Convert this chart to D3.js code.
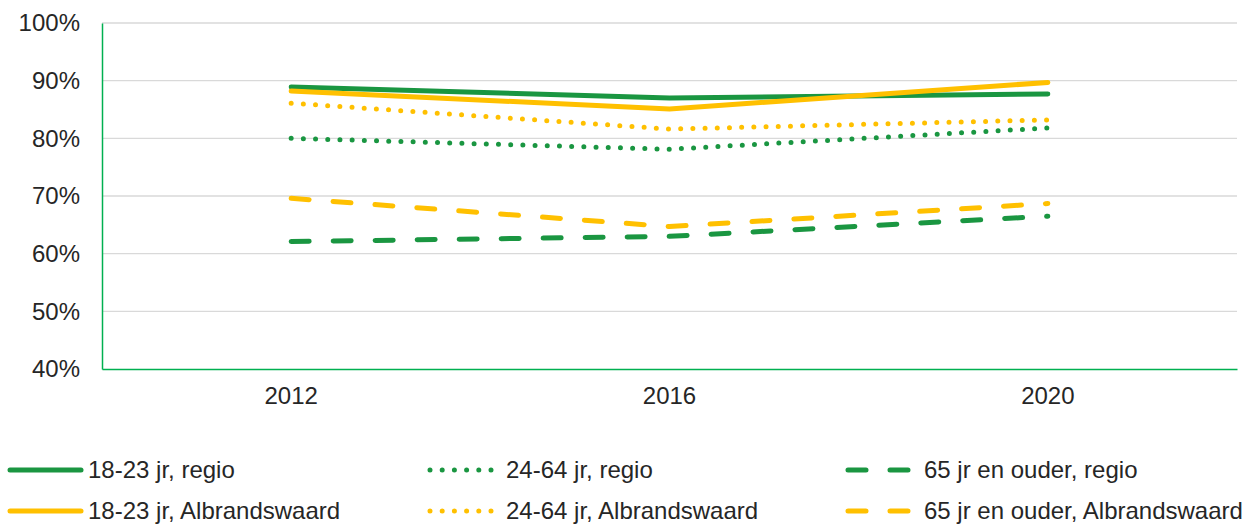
<!DOCTYPE html>
<html>
<head>
<meta charset="utf-8">
<script src="https://cdn.jsdelivr.net/npm/d3@7"></script>
<style>
  body { margin: 0; background: #fff; }
  svg { font-family: "Liberation Sans", Arial, sans-serif; }
</style>
</head>
<body>
<div id="chart"></div>
<script>
// Data
const years = ["2012", "2016", "2020"];
const yTicks = [0.4, 0.5, 0.6, 0.7, 0.8, 0.9, 1.0];

const regio1823 = [0.889, 0.870, 0.877];
const alb1823 = [0.882, 0.851, 0.897];
const regio2464 = [0.800, 0.781, 0.818];
const alb2464 = [0.861, 0.816, 0.832];
const regio65 = [0.621, 0.630, 0.665];
const alb65 = [0.696, 0.647, 0.687];

const seriesNames = [
  "18-23 jr, regio",
  "18-23 jr, Albrandswaard",
  "24-64 jr, regio",
  "24-64 jr, Albrandswaard",
  "65 jr en ouder, regio",
  "65 jr en ouder, Albrandswaard"
];

const green = "#1a9641";
const yellow = "#ffc000";
const dotted = "0,12.2";
const dashed = "18,24";

const series = [
  { name: seriesNames[0], values: regio1823, color: green, dash: null },
  { name: seriesNames[1], values: alb1823, color: yellow, dash: null },
  { name: seriesNames[2], values: regio2464, color: green, dash: dotted },
  { name: seriesNames[3], values: alb2464, color: yellow, dash: dotted },
  { name: seriesNames[4], values: regio65, color: green, dash: dashed },
  { name: seriesNames[5], values: alb65, color: yellow, dash: dashed }
];

const width = 1247;
const height = 524;
const margin = { top: 23, right: 10, bottom: 155, left: 102 };
const fontSize = 24;

const svg = d3.select("#chart")
  .append("svg")
  .attr("width", width)
  .attr("height", height);

const x = d3.scaleBand()
  .domain(years)
  .range([margin.left, width - margin.right]);

const y = d3.scaleLinear()
  .domain([0.4, 1.0])
  .range([height - margin.bottom, margin.top]);

// gridlines
svg.append("g")
  .selectAll("line")
  .data(yTicks.slice(1))
  .enter()
  .append("line")
  .attr("x1", margin.left)
  .attr("x2", width - margin.right)
  .attr("y1", (d) => y(d))
  .attr("y2", (d) => y(d))
  .attr("stroke", "#d9d9d9")
  .attr("stroke-width", 1.3);

// y axis
const yAxis = svg.append("g")
  .attr("transform", `translate(${margin.left},0)`)
  .call(d3.axisLeft(y).tickValues(yTicks).tickFormat(d3.format(".0%")).tickSize(0).tickPadding(22));
yAxis.select(".domain").attr("stroke", "#00b050").attr("stroke-width", 1.5);
yAxis.selectAll("text").attr("font-size", fontSize).attr("fill", "#262626");

// x axis
const xAxis = svg.append("g")
  .attr("transform", `translate(0,${height - margin.bottom})`)
  .call(d3.axisBottom(x).tickSize(0).tickPadding(18));
xAxis.select(".domain").attr("stroke", "#00b050").attr("stroke-width", 1.5);
xAxis.selectAll("text").attr("font-size", fontSize).attr("fill", "#262626");

// lines
const line = d3.line()
  .x((d, i) => x(years[i]) + x.bandwidth() / 2)
  .y((d) => y(d));

svg.append("g")
  .selectAll("path")
  .data(series)
  .enter()
  .append("path")
  .attr("d", (d) => line(d.values))
  .attr("fill", "none")
  .attr("stroke", (d) => d.color)
  .attr("stroke-width", 5)
  .attr("stroke-linecap", "round")
  .attr("stroke-linejoin", "round")
  .attr("stroke-dasharray", (d) => d.dash);

// legend: 3 columns, 2 rows
const legendCols = [
  { lx0: 10, lx1: 81, tx: 88 },
  { lx0: 430, lx1: 495, tx: 506 },
  { lx0: 848, lx1: 912, tx: 924 }
];
const legendRows = [470, 511];

const legend = svg.append("g")
  .selectAll("g")
  .data(series)
  .enter()
  .append("g")
  .attr("transform", (d, i) => `translate(0,${legendRows[i % 2]})`);

legend.append("line")
  .attr("x1", (d, i) => legendCols[Math.floor(i / 2)].lx0)
  .attr("x2", (d, i) => legendCols[Math.floor(i / 2)].lx1)
  .attr("stroke", (d) => d.color)
  .attr("stroke-width", 5)
  .attr("stroke-linecap", "round")
  .attr("stroke-dasharray", (d) => d.dash);

legend.append("text")
  .attr("x", (d, i) => legendCols[Math.floor(i / 2)].tx)
  .attr("dy", "0.35em")
  .attr("font-size", fontSize)
  .attr("fill", "#262626")
  .text((d) => d.name);
</script>
</body>
</html>
